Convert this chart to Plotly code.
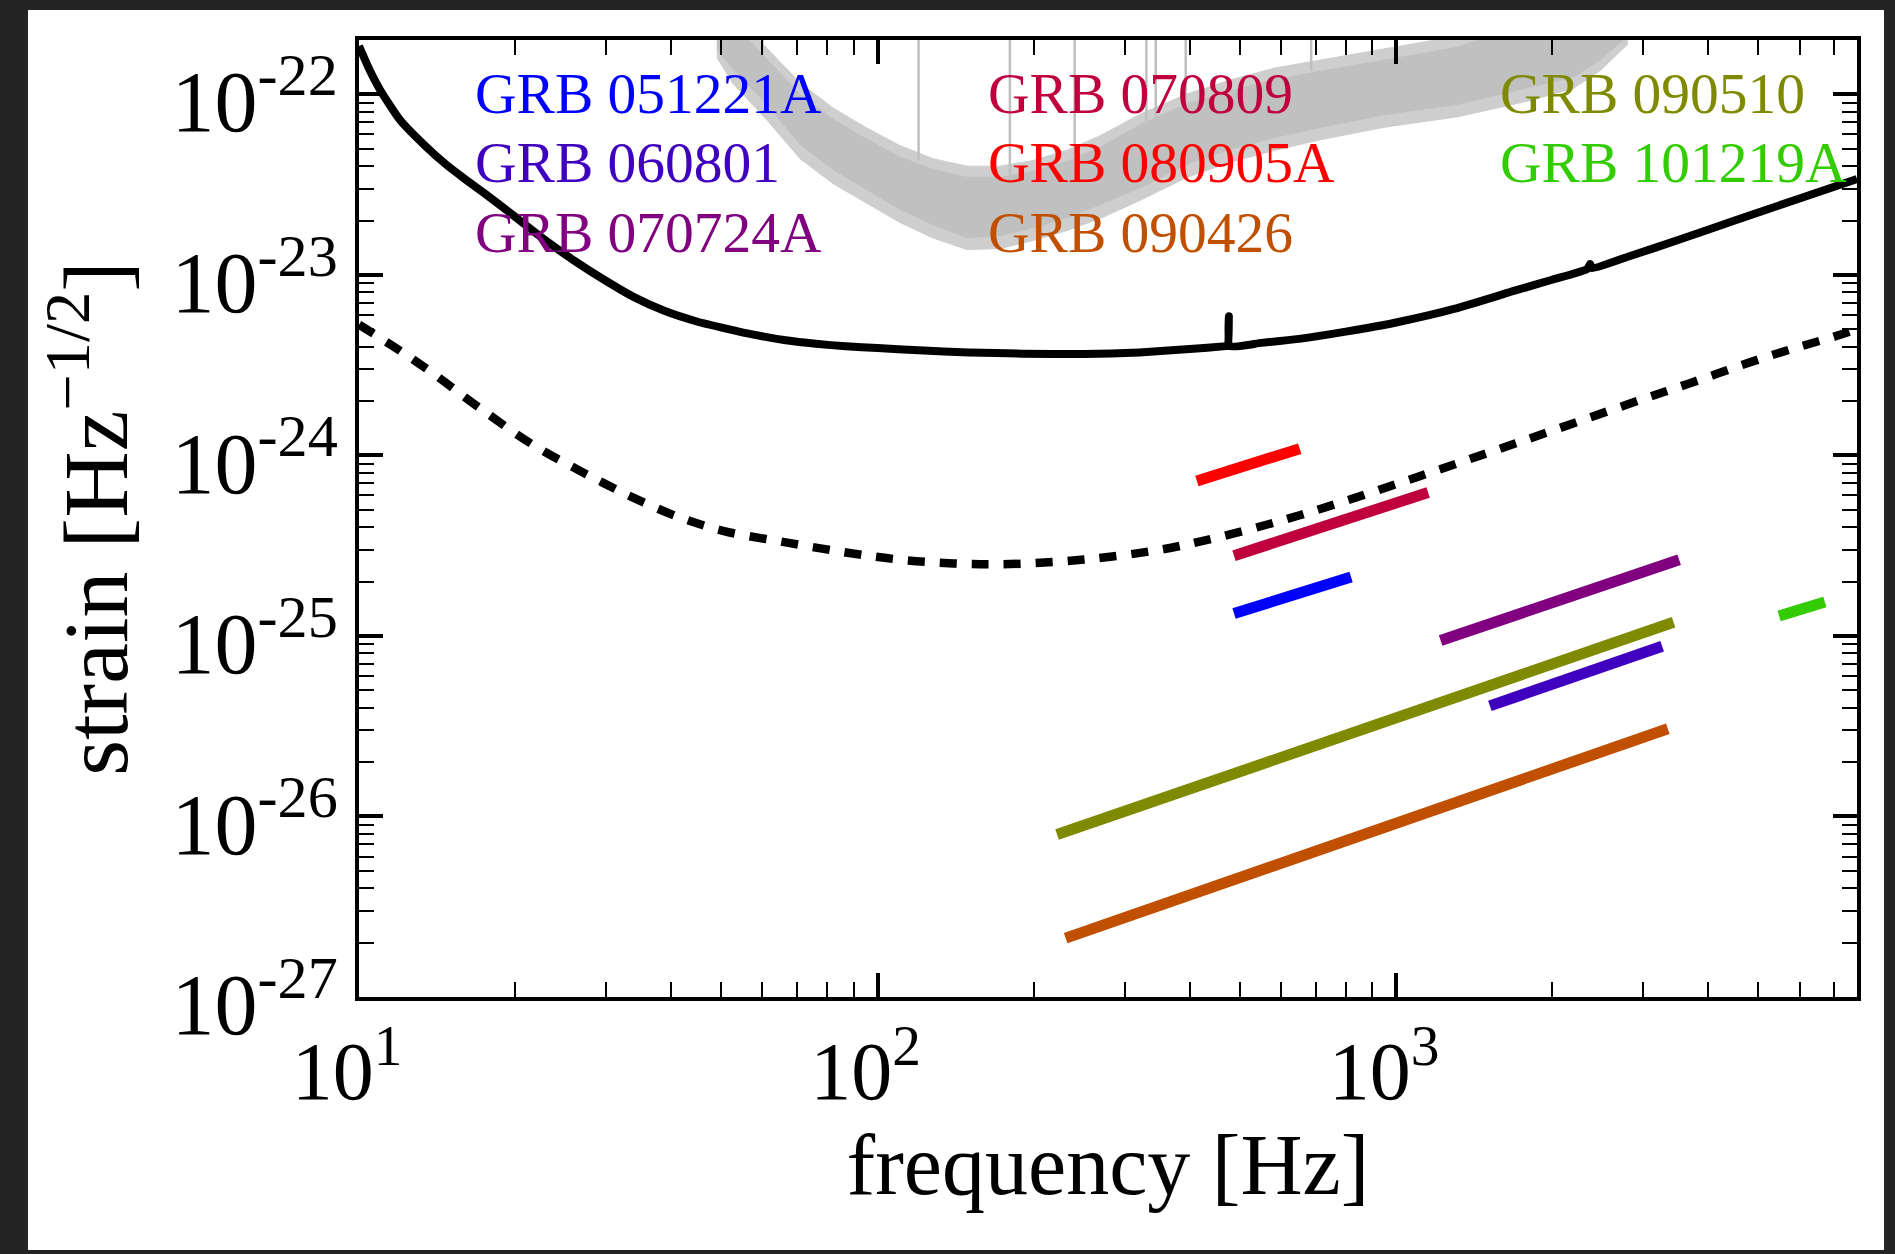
import numpy as np
import plotly.graph_objects as go

# ---------------- data ----------------
# solid black sensitivity curve
solid_f = [10, 10.5, 11, 12, 13.4, 14.7, 16, 17.4, 20, 22.7, 26, 29.7, 34, 38.9, 45,
           50.8, 58, 66.5, 76, 86.9, 100, 120, 150, 190, 250, 320, 400, 470, 474, 476,
           478, 550, 650, 800, 1000, 1300, 1700, 2000, 2340, 2367, 2390, 2800, 3500,
           4500, 6000, 7745]
solid_h = [1.85e-22, 1.35e-22, 1.05e-22, 7.2e-23, 5.2e-23, 4.1e-23, 3.4e-23, 2.85e-23,
           2.1e-23, 1.58e-23, 1.2e-23, 9.4e-24, 7.5e-24, 6.3e-24, 5.5e-24, 5.06e-24,
           4.65e-24, 4.34e-24, 4.15e-24, 4.02e-24, 3.93e-24, 3.82e-24, 3.72e-24,
           3.66e-24, 3.64e-24, 3.72e-24, 3.88e-24, 4.03e-24, 4.04e-24, 5.9e-24,
           4.05e-24, 4.2e-24, 4.42e-24, 4.85e-24, 5.45e-24, 6.5e-24, 8.2e-24, 9.4e-24,
           1.08e-23, 1.15e-23, 1.09e-23, 1.26e-23, 1.56e-23, 2.0e-23, 2.65e-23, 3.4e-23]

# dashed black curve
dash_f = [10, 12, 14, 17, 21.6, 26.7, 29.7, 33.1, 41, 50.8, 66.5, 86.9, 110, 140, 180,
          250, 350, 450, 600, 800, 1100, 1500, 2000, 2800, 3700, 5000, 6000, 7000, 7745]
dash_h = [5.3e-24, 3.8e-24, 2.8e-24, 1.85e-24, 1.15e-24, 8.2e-25, 7.0e-25, 6.0e-25,
          4.6e-25, 3.8e-25, 3.3e-25, 2.9e-25, 2.65e-25, 2.52e-25, 2.5e-25, 2.65e-25,
          3.0e-25, 3.5e-25, 4.35e-25, 5.6e-25, 7.6e-25, 1.03e-24, 1.37e-24, 1.92e-24,
          2.52e-24, 3.4e-24, 4.0e-24, 4.55e-24, 5.0e-24]

# grey measured noise: dense core (lower / upper) and spike tips (outer)
noise_f = [49.0, 52.6, 61.2, 70.9, 82.1, 95.4, 110.5, 128.0, 148.8, 172.3, 199.5,
           232.0, 268.6, 322.2, 393.6, 478.5, 584.3, 713.6, 956.6, 1311, 1805, 2200,
           2474, 2800]
noise_lo = [1.78e-22, 1.38e-22, 8.8e-23, 5.28e-23, 3.84e-23, 2.97e-23, 2.31e-23,
            1.90e-23, 1.61e-23, 1.65e-23, 1.83e-23, 2.08e-23, 2.45e-23, 3.05e-23,
            4.09e-23, 4.96e-23, 5.78e-23, 6.56e-23, 7.75e-23, 8.8e-23, 1.09e-22,
            1.25e-22, 1.55e-22, 2.1e-22]
noise_hi = [3.0e-22, 2.5e-22, 1.56e-22, 1.0e-22, 7.26e-23, 5.63e-23, 4.48e-23,
            3.84e-23, 3.47e-23, 3.47e-23, 3.74e-23, 4.25e-23, 5.08e-23, 6.82e-23,
            8.8e-23, 1.04e-22, 1.21e-22, 1.34e-22, 1.56e-22, 1.82e-22, 2.5e-22,
            2.8e-22, 3.0e-22, 3.5e-22]
noise_tip_lo = [1.6e-22, 1.15e-22, 7.2e-23, 4.4e-23, 3.2e-23, 2.5e-23, 1.95e-23,
                1.6e-23, 1.38e-23, 1.4e-23, 1.55e-23, 1.76e-23, 2.05e-23, 2.6e-23,
                3.45e-23, 4.2e-23, 4.9e-23, 5.6e-23, 6.6e-23, 7.5e-23, 9.2e-23,
                1.08e-22, 1.35e-22, 1.9e-22]
noise_tip_hi = [3.4e-22, 2.9e-22, 1.8e-22, 1.16e-22, 8.4e-23, 6.5e-23, 5.2e-23,
                4.4e-23, 4.0e-23, 4.0e-23, 4.3e-23, 4.9e-23, 5.9e-23, 7.8e-23,
                1.0e-22, 1.2e-22, 1.4e-22, 1.55e-22, 1.8e-22, 2.1e-22, 2.9e-22,
                3.2e-22, 3.4e-22, 4.0e-22]

# narrow lines in the grey noise
spike_f = [60, 120, 180, 240, 330, 344, 393, 686]
spike_lo = [1.4e-22, 4.3e-23, 3.6e-23, 4.6e-23, 7.0e-23, 7.4e-23, 9.0e-23, 1.35e-22]
spike_hi = [3e-22, 3e-22, 3e-22, 3e-22, 3e-22, 3e-22, 3e-22, 3e-22]

# GRB segments
grb_names = ["GRB 051221A", "GRB 060801", "GRB 070724A", "GRB 070809",
             "GRB 080905A", "GRB 090426", "GRB 090510", "GRB 101219A"]
grb_f0 = [487, 1517, 1219, 487, 413, 230.6, 222, 5480]
grb_f1 = [819, 3260, 3516, 1153, 652, 3343, 3430, 6714]
grb_h0 = [1.33e-25, 4.1e-26, 9.44e-26, 2.78e-25, 7.22e-25, 2.12e-27, 7.94e-27, 1.29e-25]
grb_h1 = [2.12e-25, 8.77e-26, 2.64e-25, 6.23e-25, 1.09e-24, 3.06e-26, 1.19e-25, 1.54e-25]
grb_colors = ["#0000ff", "#4000c0", "#800080", "#c0003c",
              "#ff0000", "#c04f00", "#7f8a00", "#33cc00"]

# axis ticks
x_major = [10, 100, 1000]
x_major_text = ["10<sup>1</sup>", "10<sup>2</sup>", "10<sup>3</sup>"]
y_major = [1e-27, 1e-26, 1e-25, 1e-24, 1e-23, 1e-22]
y_major_text = ["10<sup>-27</sup>", "10<sup>-26</sup>", "10<sup>-25</sup>",
                "10<sup>-24</sup>", "10<sup>-23</sup>", "10<sup>-22</sup>"]

# ---------------- layout constants ----------------
W, H = 1895, 1254
ML, MR, MT, MB = 359, 38, 40, 257
PW, PH = W - ML - MR, H - MT - MB
FONT = "Liberation Serif"
GREY = "#c0c0c0"
GREY_SOFT = "#cecece"

x_minor = [m * 10 ** d for d in (1, 2, 3) for m in range(2, 10) if m * 10 ** d < 7745]
y_minor = [m * 10.0 ** d for d in (-27, -26, -25, -24, -23, -22) for m in range(2, 10)
           if m * 10.0 ** d <= 2e-22]

fig = go.Figure()

# grey noise: spike-tip envelope (softer) then dense core
fig.add_trace(go.Scatter(x=noise_f, y=noise_tip_lo, mode="lines",
                         line=dict(color=GREY_SOFT, width=1), hoverinfo="skip"))
fig.add_trace(go.Scatter(x=noise_f, y=noise_tip_hi, mode="lines", fill="tonexty",
                         fillcolor=GREY_SOFT, line=dict(color=GREY_SOFT, width=1),
                         hoverinfo="skip"))
fig.add_trace(go.Scatter(x=noise_f, y=noise_lo, mode="lines",
                         line=dict(color=GREY, width=1), hoverinfo="skip"))
fig.add_trace(go.Scatter(x=noise_f, y=noise_hi, mode="lines", fill="tonexty",
                         fillcolor=GREY, line=dict(color=GREY, width=1), hoverinfo="skip"))
for f, lo, hi in zip(spike_f, spike_lo, spike_hi):
    fig.add_trace(go.Scatter(x=[f, f], y=[lo, hi], mode="lines",
                             line=dict(color=GREY, width=2.5), hoverinfo="skip"))

# sensitivity curves
fig.add_trace(go.Scatter(x=solid_f, y=solid_h, mode="lines",
                         line=dict(color="black", width=8, shape="spline", smoothing=0.5)))
fig.add_trace(go.Scatter(x=dash_f, y=dash_h, mode="lines",
                         line=dict(color="black", width=8.5, dash="17px,15px",
                                   shape="spline", smoothing=1.0)))

# GRB segments
for f0, f1, h0, h1, c in zip(grb_f0, grb_f1, grb_h0, grb_h1, grb_colors):
    fig.add_trace(go.Scatter(x=[f0, f1], y=[h0, h1], mode="lines",
                             line=dict(color=c, width=11)))

# legend labels (text)
col_x = [473, 986, 1498]
row_y = [93, 162, 232]
pos = [(0, 0), (0, 1), (0, 2), (1, 0), (1, 1), (1, 2), (2, 0), (2, 1)]
for name, c, (ci, ri) in zip(grb_names, grb_colors, pos):
    fig.add_annotation(xref="paper", yref="paper",
                       x=(col_x[ci] - ML) / PW, y=(H - MB - row_y[ri]) / PH,
                       xanchor="left", yanchor="middle", showarrow=False,
                       text=name, font=dict(family=FONT, size=57.5, color=c))

axis_common = dict(type="log", showline=True, linewidth=4, linecolor="black",
                   mirror="ticks", ticks="inside", ticklen=24, tickwidth=3.5,
                   tickcolor="black", showgrid=False, zeroline=False,
                   tickmode="array")

fig.update_xaxes(**axis_common, range=[1, np.log10(7745)],
                 tickvals=x_major, ticktext=x_major_text, ticklabelshift=-12,
                 tickfont=dict(family=FONT, size=82, color="black"),
                 minor=dict(tickmode="array", tickvals=x_minor, ticks="inside",
                            ticklen=15, tickwidth=2, tickcolor="black", showgrid=False),
                 title=dict(text="frequency [Hz]", font=dict(family=FONT, size=86),
                            standoff=12))
fig.update_yaxes(**axis_common, range=[-27, np.log10(2e-22)],
                 tickvals=y_major, ticktext=y_major_text, ticklabelshift=7,
                 tickfont=dict(family=FONT, size=86, color="black"),
                 minor=dict(tickmode="array", tickvals=y_minor, ticks="inside",
                            ticklen=15, tickwidth=2, tickcolor="black", showgrid=False),
                 title=dict(text="strain [Hz<sup>\u22121/2</sup>]",
                            font=dict(family=FONT, size=92), standoff=14))

fig.update_layout(
    width=W, height=H, autosize=False,
    margin=dict(l=ML, r=MR, t=MT, b=MB, pad=0),
    paper_bgcolor="#242424", plot_bgcolor="white", showlegend=False,
    font=dict(family=FONT, color="black"),
    shapes=[dict(type="rect", xref="paper", yref="paper", layer="below",
                 x0=(28 - ML) / PW, x1=(1884 - ML) / PW,
                 y0=(H - MB - 1250) / PH, y1=(H - MB - 10) / PH,
                 fillcolor="white", line=dict(width=0))],
)

fig.write_html("out.html", config={"displayModeBar": False},
               post_script="document.body.style.margin='0';"
                           "document.body.style.overflow='hidden';")
